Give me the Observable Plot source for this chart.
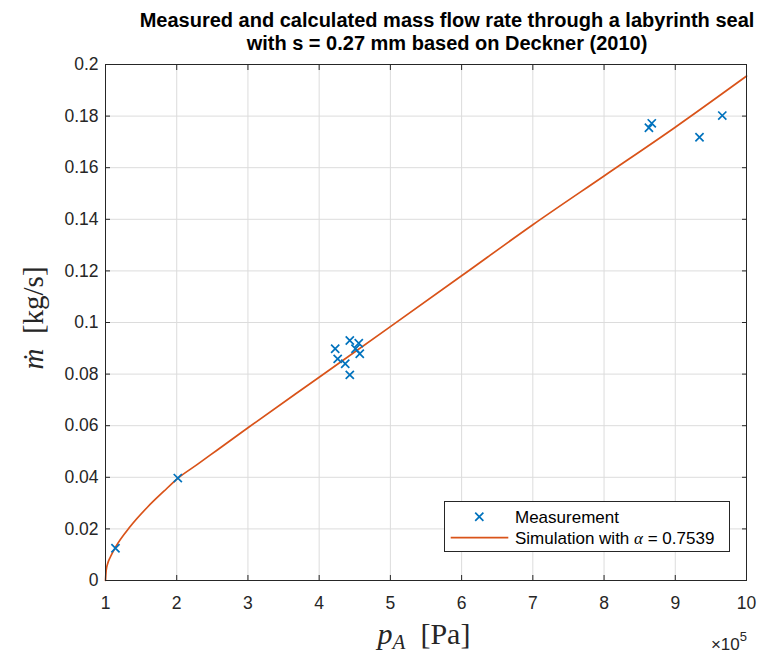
<!DOCTYPE html>
<html><head><meta charset="utf-8">
<script src="https://cdn.jsdelivr.net/npm/d3@7"></script>
<script src="https://cdn.jsdelivr.net/npm/@observablehq/plot@0.6"></script>
<style>
body{margin:0;background:#fff;}
#chart svg{display:block;}
</style></head><body>
<div id="chart"></div>
<script>
// Measured points (p_A in 1e5 Pa, mass flow in kg/s)
const measX = [1.14, 2.015, 4.225, 4.26, 4.366, 4.43, 4.43, 4.51, 4.556, 4.57, 8.63, 8.67, 9.34, 9.66];
const measY = [0.0125, 0.0397, 0.0898, 0.0859, 0.0840, 0.0930, 0.0797, 0.0898, 0.0920, 0.0879, 0.1755, 0.1772, 0.1718, 0.1802];
// Simulation curve
const simX = [1.0, 1.01, 1.03, 1.07, 1.14, 1.35, 1.585, 1.82, 2.015, 2.29, 2.57, 3.0, 4.0, 5.0, 6.0, 7.0, 8.0, 9.0, 10.0];
const simY = [0.0, 0.0040, 0.0065, 0.0092, 0.0129, 0.0210, 0.0283, 0.0346, 0.0396, 0.0450, 0.0506, 0.0592, 0.0788, 0.0984, 0.1181, 0.1379, 0.1568, 0.1757, 0.1955];
// Ticks
const xTicks = [1, 2, 3, 4, 5, 6, 7, 8, 9, 10];
const xTickLabels = ["1", "2", "3", "4", "5", "6", "7", "8", "9", "10"];
const yTicks = [0, 0.02, 0.04, 0.06, 0.08, 0.1, 0.12, 0.14, 0.16, 0.18, 0.2];
const yTickLabels = ["0", "0.02", "0.04", "0.06", "0.08", "0.1", "0.12", "0.14", "0.16", "0.18", "0.2"];
const titleLines = ["Measured and calculated mass flow rate through a labyrinth seal", "with s = 0.27 mm based on Deckner (2010)"];
const legendLabels = ["Measurement", "Simulation with "];
const alphaValue = "0.7539";

const meas = measX.map((x, i) => ({x, y: measY[i]}));
const sim = simX.map((x, i) => ({x, y: simY[i]}));

const AX = "#262626";
const W = 757, H = 654;
const mL = 105, mR = 11, mT = 64, mB = 74;

const plot = Plot.plot({
  width: W, height: H,
  marginLeft: mL, marginRight: mR, marginTop: mT, marginBottom: mB,
  style: {fontFamily: "'Liberation Sans', Arial, sans-serif", fontSize: "17.5px", background: "#fff", color: AX},
  x: {domain: [1, 10]},
  y: {domain: [0, 0.2]},
  marks: [
    Plot.gridX(xTicks, {stroke: "#dcdcdc", strokeOpacity: 1}),
    Plot.gridY(yTicks, {stroke: "#dcdcdc", strokeOpacity: 1}),
    Plot.line(sim, {x: "x", y: "y", stroke: "#D95319", strokeWidth: 1.7, curve: "monotone-x"}),
    Plot.dot(meas, {x: "x", y: "y", symbol: "times", r: 3.8, stroke: "#0072BD", strokeWidth: 1.7}),
    Plot.frame({stroke: AX}),
    Plot.axisX(xTicks, {anchor: "bottom", tickSize: 0, tickPadding: 16, label: null, fill: AX, tickFormat: d => xTickLabels[xTicks.indexOf(d)]}),
    Plot.axisX(xTicks, {anchor: "bottom", tickSize: -5, fill: "none", label: null, stroke: AX}),
    Plot.axisX(xTicks, {anchor: "top", tickSize: -5, fill: "none", label: null, stroke: AX}),
    Plot.axisY(yTicks, {anchor: "left", tickSize: 0, tickPadding: 7, label: null, fill: AX, tickFormat: d => yTickLabels[yTicks.indexOf(d)]}),
    Plot.axisY(yTicks, {anchor: "left", tickSize: -5, fill: "none", label: null, stroke: AX}),
    Plot.axisY(yTicks, {anchor: "right", tickSize: -5, fill: "none", label: null, stroke: AX})
  ]
});
document.getElementById("chart").appendChild(plot);

const svg = d3.select(plot);
// Title
const t = svg.append("g").attr("font-family", "'Liberation Sans', Arial, sans-serif").attr("font-weight", "bold").attr("font-size", 20).attr("fill", "#000").attr("text-anchor", "middle");
t.append("text").attr("x", 447).attr("y", 27).text(titleLines[0]);
t.append("text").attr("x", 447).attr("y", 50).text(titleLines[1]);

// Axis labels (LaTeX-like)
const xl = svg.append("text").attr("font-family", "'Liberation Serif', 'DejaVu Serif', serif").attr("font-size", 30).attr("fill", AX).attr("text-anchor", "middle").attr("x", 424).attr("y", 644);
xl.append("tspan").attr("font-style", "italic").text("p");
xl.append("tspan").attr("font-style", "italic").attr("font-size", 21).attr("dy", 5).text("A");
xl.append("tspan").attr("dy", -5).text("\u2002[Pa]");

const yl = svg.append("text").attr("font-family", "'Liberation Serif', 'DejaVu Serif', serif").attr("font-size", 29).attr("fill", AX).attr("text-anchor", "middle").attr("transform", "translate(43,318) rotate(-90)");
yl.append("tspan").attr("font-style", "italic").text("\u1E41");
yl.append("tspan").text("\u2002[kg/s]");

// exponent
const ex = svg.append("text").attr("font-family", "'Liberation Sans', Arial, sans-serif").attr("font-size", 17).attr("fill", AX).attr("text-anchor", "end").attr("x", 747).attr("y", 650);
ex.append("tspan").text("\u00D710");
ex.append("tspan").attr("font-size", 13).attr("dy", -9).text("5");

// Legend
const lg = svg.append("g").attr("text-anchor", "start");
lg.append("rect").attr("x", 444.5).attr("y", 501.5).attr("width", 285).attr("height", 50).attr("fill", "#fff").attr("stroke", AX).attr("stroke-width", 1);
lg.append("path").attr("d", d3.symbol(d3.symbolTimes, Math.PI * 3.8 * 3.8)()).attr("transform", "translate(479.3,516.7)").attr("fill", "none").attr("stroke", "#0072BD").attr("stroke-width", 1.7);
lg.append("line").attr("x1", 450.7).attr("x2", 508.3).attr("y1", 537.7).attr("y2", 537.7).attr("stroke", "#D95319").attr("stroke-width", 1.7);
const lt = lg.append("g").attr("font-family", "'Liberation Sans', Arial, sans-serif").attr("font-size", 17).attr("fill", "#000");
lt.append("text").attr("x", 515).attr("y", 516.7).attr("dy", "0.35em").text(legendLabels[0]);
const l2 = lt.append("text").attr("x", 515).attr("y", 537.7).attr("dy", "0.35em");
l2.append("tspan").text(legendLabels[1]);
l2.append("tspan").attr("font-family", "'Liberation Serif', serif").attr("font-style", "italic").text("\u03B1");
l2.append("tspan").text(" = " + alphaValue);
</script>
</body></html>
